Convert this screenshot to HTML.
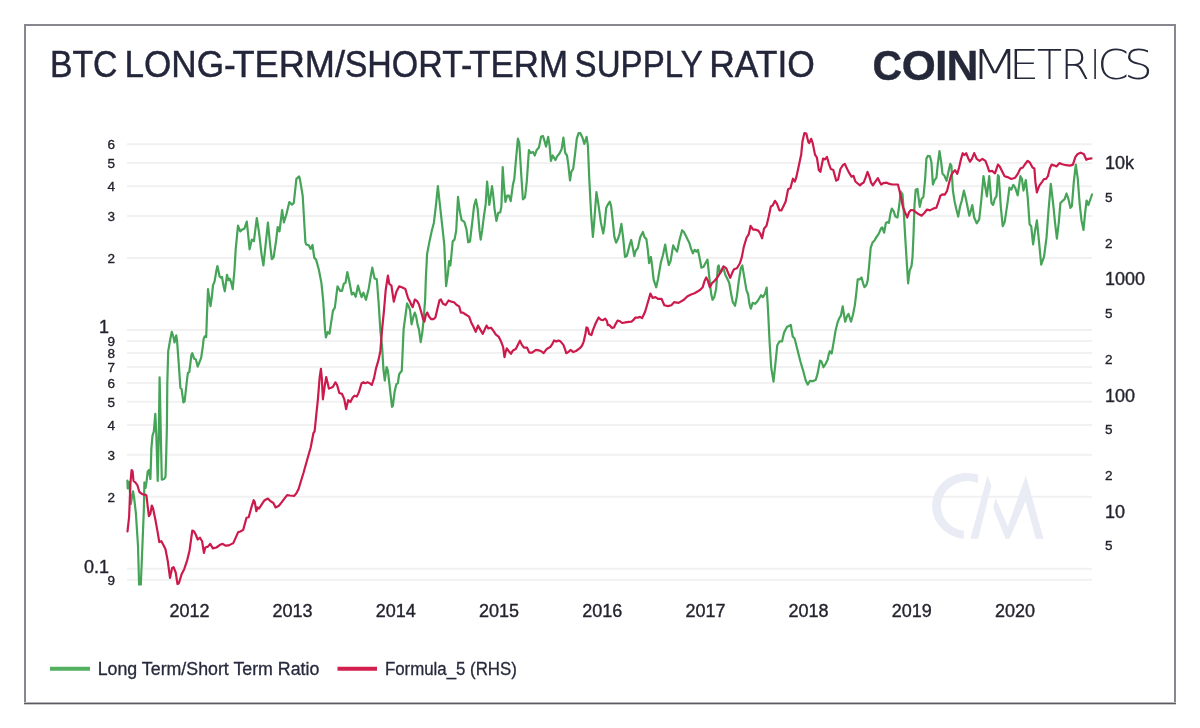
<!DOCTYPE html>
<html><head><meta charset="utf-8"><style>
html,body{margin:0;padding:0;background:#fff;}
body{width:1200px;height:728px;overflow:hidden;}
svg{display:block;} text{font-kerning:none;}
.ls{font:13.5px "Liberation Sans", Arial, Helvetica, sans-serif;fill:#23232f;stroke:#23232f;stroke-width:0.35px;text-anchor:end;}
.ll{font:18px "Liberation Sans", Arial, Helvetica, sans-serif;fill:#23232f;stroke:#23232f;stroke-width:0.35px;text-anchor:end;}
.rs{font:13.5px "Liberation Sans", Arial, Helvetica, sans-serif;fill:#23232f;stroke:#23232f;stroke-width:0.35px;}
.rl{font:18px "Liberation Sans", Arial, Helvetica, sans-serif;fill:#23232f;stroke:#23232f;stroke-width:0.35px;}
.xl{font:18px "Liberation Sans", Arial, Helvetica, sans-serif;fill:#23232f;stroke:#23232f;stroke-width:0.35px;text-anchor:middle;}
.title{font:37.5px "Liberation Sans", Arial, Helvetica, sans-serif;fill:#23263a;stroke:#23263a;stroke-width:0.45px;}
.leg{font:18px "Liberation Sans", Arial, Helvetica, sans-serif;fill:#262a3c;stroke:#262a3c;stroke-width:0.3px;}
.coin{font:bold 42.5px "Liberation Sans", Arial, Helvetica, sans-serif;fill:#252839;stroke:#252839;stroke-width:0.4px;}
.metrics{font:200 40px "DejaVu Sans", sans-serif;fill:#252839;}
</style></head><body>
<svg width="1200" height="728" viewBox="0 0 1200 728">
<rect x="0" y="0" width="1200" height="728" fill="#fff"/>
<rect x="25" y="25" width="1150" height="678" fill="none" stroke="#88878f" stroke-width="2"/>
<line x1="24" y1="702.5" x2="1176" y2="702.5" stroke="#b4b3b9" stroke-width="1"/>
<line x1="24" y1="703.5" x2="1176" y2="703.5" stroke="#5c5b64" stroke-width="1"/>
<line x1="24" y1="704.5" x2="1176" y2="704.5" stroke="#c8c7cc" stroke-width="1"/>
<text y="76.8" class="title"><tspan x="49.91" textLength="67.44" lengthAdjust="spacingAndGlyphs">BTC</tspan> <tspan x="124.50" textLength="111.26" lengthAdjust="spacingAndGlyphs">LONG-</tspan><tspan x="232.43" textLength="112.63" lengthAdjust="spacingAndGlyphs">TERM/</tspan><tspan x="344.66" textLength="127.67" lengthAdjust="spacingAndGlyphs">SHORT-</tspan><tspan x="469.16" textLength="98.77" lengthAdjust="spacingAndGlyphs">TERM</tspan> <tspan x="574.61" textLength="127.50" lengthAdjust="spacingAndGlyphs">SUPPLY</tspan> <tspan x="709.17" textLength="105.74" lengthAdjust="spacingAndGlyphs">RATIO</tspan></text>
<text y="79.5" class="coin"><tspan x="872.56" textLength="29.59" lengthAdjust="spacingAndGlyphs">C</tspan><tspan x="901.75" textLength="34.06" lengthAdjust="spacingAndGlyphs">O</tspan><tspan x="935.06" textLength="12.38" lengthAdjust="spacingAndGlyphs">I</tspan><tspan x="946.59" textLength="31.92" lengthAdjust="spacingAndGlyphs">N</tspan></text>
<text y="79.3" class="metrics"><tspan x="970.45" textLength="48.83" lengthAdjust="spacingAndGlyphs">M</tspan><tspan x="1008.78" textLength="30.54" lengthAdjust="spacingAndGlyphs">E</tspan><tspan x="1037.08" textLength="25.03" lengthAdjust="spacingAndGlyphs">T</tspan><tspan x="1060.60" textLength="29.20" lengthAdjust="spacingAndGlyphs">R</tspan><tspan x="1090.48" textLength="9.27" lengthAdjust="spacingAndGlyphs">I</tspan><tspan x="1097.26" textLength="31.65" lengthAdjust="spacingAndGlyphs">C</tspan><tspan x="1123.91" textLength="28.82" lengthAdjust="spacingAndGlyphs">S</tspan></text>
<g stroke="#f1f1f2" stroke-width="2">
<line x1="127" y1="579.67" x2="1092" y2="579.67"/>
<line x1="127" y1="568.74" x2="1092" y2="568.74"/>
<line x1="127" y1="496.86" x2="1092" y2="496.86"/>
<line x1="127" y1="454.82" x2="1092" y2="454.82"/>
<line x1="127" y1="424.99" x2="1092" y2="424.99"/>
<line x1="127" y1="401.85" x2="1092" y2="401.85"/>
<line x1="127" y1="382.94" x2="1092" y2="382.94"/>
<line x1="127" y1="366.96" x2="1092" y2="366.96"/>
<line x1="127" y1="353.11" x2="1092" y2="353.11"/>
<line x1="127" y1="340.9" x2="1092" y2="340.9"/>
<line x1="127" y1="329.97" x2="1092" y2="329.97"/>
<line x1="127" y1="258.09" x2="1092" y2="258.09"/>
<line x1="127" y1="216.05" x2="1092" y2="216.05"/>
<line x1="127" y1="186.22" x2="1092" y2="186.22"/>
<line x1="127" y1="163.08" x2="1092" y2="163.08"/>
<line x1="127" y1="144.17" x2="1092" y2="144.17"/>
</g>
<g fill="#eaecf5">
<path d="M978.1,474.6 A35,33 0 1 0 963.9,538.8 L963.9,530.8 A26.6,25 0 1 1 978.1,483.1 Z"/>
<path d="M970.4,538.8 L978.1,538.8 L991.3,485.9 L987.5,475.4 Z"/>
<path d="M995.5,498 L1007.8,526.5 L1025.9,475.4 L1043.5,538.8 L1035.8,538.8 L1025.5,501.3 L1009.5,538.8 L1005.5,538.8 L993.3,508 Z"/>
</g>
<defs><clipPath id="pc"><rect x="126" y="120" width="968" height="465.5"/></clipPath></defs>
<g clip-path="url(#pc)" fill="none" stroke-width="2.2" stroke-linejoin="round" stroke-linecap="round">
<path d="M127.4,480.5 L127.7,488.5 L129.2,482.0 L130.8,504.0 L133.0,491.3 L134.1,497.5 L135.9,513.6 L138.0,545.7 L139.1,585.0 L140.8,585.0 L142.4,546.0 L143.8,511.0 L144.4,482.4 L145.5,488.0 L146.6,481.4 L147.7,471.4 L149.0,470.0 L150.4,479.0 L151.4,448.1 L152.5,435.7 L153.8,431.6 L155.3,413.8 L156.3,434.3 L157.7,481.0 L158.7,441.2 L159.6,377.3 L161.8,479.7 L164.1,479.0 L165.5,476.9 L166.2,455.0 L166.9,427.5 L167.3,383.6 L168.2,351.4 L170.0,340.7 L171.8,331.8 L173.5,337.0 L174.5,342.5 L176.2,335.4 L177.0,340.0 L178.9,365.7 L180.4,388.0 L181.6,389.0 L183.4,402.3 L184.6,401.4 L187.0,380.0 L187.9,372.9 L189.3,372.0 L191.4,355.0 L192.3,353.2 L194.1,358.6 L195.9,359.5 L197.7,366.6 L199.5,362.1 L201.2,357.7 L203.0,345.2 L203.6,339.1 L204.7,336.4 L206.2,337.0 L206.9,317.1 L208.0,289.1 L209.1,296.3 L210.5,306.2 L211.9,296.3 L213.0,285.3 L214.6,281.4 L216.3,271.0 L217.4,266.0 L218.5,271.0 L219.6,276.5 L220.9,277.6 L222.0,277.0 L223.4,285.3 L224.8,291.3 L225.9,283.1 L227.0,274.8 L228.4,280.3 L229.7,278.7 L231.1,282.0 L232.7,289.1 L234.4,271.0 L235.7,249.3 L238.0,225.7 L240.2,231.4 L242.0,229.6 L244.3,228.8 L246.8,221.6 L248.2,235.0 L249.6,249.3 L251.8,239.5 L253.9,241.2 L256.8,218.0 L258.9,231.4 L261.6,254.6 L263.4,265.4 L265.7,243.9 L267.9,222.5 L270.0,243.9 L271.8,259.1 L273.6,257.3 L275.9,242.1 L277.7,227.0 L279.5,231.4 L282.1,210.0 L283.9,222.5 L286.6,213.6 L289.3,202.0 L292.0,204.6 L293.8,202.9 L296.4,178.8 L299.1,176.4 L300.0,179.6 L302.7,195.7 L305.4,242.1 L306.2,244.5 L308.9,245.4 L310.7,248.9 L312.5,245.0 L314.3,257.9 L316.1,259.6 L318.8,269.5 L321.4,282.9 L323.2,300.7 L325.0,329.3 L325.9,337.3 L327.7,332.0 L329.5,333.8 L331.2,322.1 L333.0,310.5 L334.8,307.9 L337.5,286.4 L340.2,290.9 L342.0,290.9 L343.8,283.8 L345.5,282.9 L347.3,272.1 L349.1,280.2 L351.8,294.5 L353.6,292.7 L355.7,296.8 L358.0,285.5 L359.8,291.8 L361.6,297.1 L363.4,292.7 L366.0,299.8 L368.8,288.2 L370.5,277.5 L372.3,267.7 L374.6,278.4 L376.8,279.3 L378.6,302.5 L380.4,331.0 L382.1,347.1 L383.5,370.0 L384.8,380.5 L386.6,367.1 L387.9,370.7 L389.3,383.2 L390.7,395.7 L392.0,406.8 L392.9,405.5 L394.6,392.1 L396.4,384.1 L397.9,383.2 L399.1,374.3 L400.4,372.5 L401.8,370.7 L403.6,329.3 L407.1,303.4 L408.5,306.0 L410.0,309.8 L411.6,324.3 L413.4,316.7 L414.8,312.6 L416.2,316.7 L417.6,324.9 L418.9,329.1 L420.7,342.1 L422.4,331.8 L423.7,318.1 L425.1,300.2 L425.9,277.1 L427.1,253.9 L429.5,241.4 L431.8,230.7 L433.9,222.7 L435.7,207.5 L437.9,186.1 L439.6,202.1 L442.0,223.6 L444.3,245.0 L446.1,286.1 L447.9,273.6 L449.1,261.1 L450.4,265.5 L452.7,241.4 L454.5,239.6 L456.2,230.7 L458.0,196.8 L459.8,211.1 L461.6,220.0 L464.3,221.8 L466.4,228.9 L468.2,242.3 L470.0,241.4 L472.3,221.8 L474.1,205.7 L475.9,199.5 L477.7,209.3 L479.5,230.7 L480.7,239.6 L482.1,230.7 L483.9,216.4 L485.7,203.9 L487.1,181.6 L488.4,195.0 L489.3,204.8 L490.7,195.9 L492.0,186.1 L493.2,195.0 L494.6,209.3 L496.4,220.9 L498.2,212.9 L500.2,212.5 L501.4,206.4 L502.7,167.1 L503.9,185.0 L505.4,202.0 L507.1,195.7 L508.9,195.7 L510.7,201.1 L512.9,185.0 L514.3,178.8 L516.1,158.2 L517.9,138.6 L519.3,143.0 L521.1,172.5 L522.9,199.3 L525.0,197.5 L526.8,181.4 L528.9,150.2 L530.7,152.9 L533.0,152.0 L534.8,155.5 L536.6,150.2 L538.9,147.5 L541.1,136.8 L542.9,135.9 L544.6,141.2 L546.1,146.6 L548.2,136.8 L549.6,145.7 L550.9,160.9 L552.7,155.5 L555.4,160.0 L557.1,156.4 L559.3,153.8 L561.6,149.3 L563.4,137.7 L565.2,152.9 L567.0,155.5 L568.4,165.4 L570.0,180.5 L571.4,171.6 L573.2,168.9 L575.0,154.6 L576.8,138.6 L578.6,133.2 L580.4,133.2 L582.5,137.7 L584.3,143.9 L586.6,136.8 L587.9,145.7 L589.3,179.6 L591.1,213.6 L592.9,236.8 L594.3,220.7 L596.4,192.1 L598.2,202.9 L600.9,222.5 L603.2,233.5 L604.5,225.7 L606.2,207.9 L608.0,204.3 L609.8,201.6 L611.1,206.1 L612.9,222.1 L614.3,236.4 L616.1,242.7 L617.9,239.1 L619.6,233.8 L621.4,223.9 L623.2,238.2 L625.0,257.0 L626.8,256.1 L629.5,245.4 L631.2,240.0 L633.0,248.9 L634.3,256.1 L635.7,250.7 L637.9,248.0 L640.2,237.3 L642.9,232.0 L644.6,237.3 L646.4,239.1 L647.9,250.7 L649.1,263.2 L650.9,257.0 L651.8,263.2 L653.6,279.3 L656.2,287.3 L658.0,279.3 L660.7,263.2 L662.9,255.2 L665.2,244.5 L667.0,256.1 L668.8,265.0 L670.5,261.4 L673.2,245.4 L675.0,248.9 L677.1,251.6 L679.5,240.0 L682.1,230.2 L683.9,232.0 L685.7,235.5 L687.9,240.0 L689.3,242.7 L691.1,248.9 L692.9,253.4 L694.6,249.8 L696.4,251.6 L697.9,249.8 L699.6,257.9 L701.4,267.7 L703.6,266.8 L705.4,263.2 L707.5,259.6 L709.3,277.5 L711.1,293.6 L712.5,299.8 L714.3,297.1 L716.1,289.1 L717.9,266.8 L718.7,265.4 L720.0,273.1 L721.5,271.2 L723.8,269.2 L725.4,275.0 L727.3,278.8 L729.2,282.7 L731.2,294.2 L732.7,301.9 L735.0,305.8 L736.9,296.2 L738.8,280.8 L740.8,268.3 L742.3,265.4 L744.2,276.9 L746.5,290.4 L748.1,294.2 L749.4,303.8 L750.8,308.7 L752.7,302.9 L755.2,303.8 L757.7,301.0 L761.0,295.2 L762.9,297.1 L764.8,294.2 L766.7,287.5 L768.1,311.5 L769.6,342.3 L771.2,367.3 L773.5,381.7 L775.4,363.5 L777.3,345.2 L779.6,341.3 L782.1,341.3 L784.0,332.7 L786.9,326.9 L788.8,326.0 L790.8,325.0 L792.7,336.5 L794.6,338.5 L797.5,350.0 L800.4,361.5 L803.3,371.2 L805.8,380.8 L807.7,384.6 L810.0,380.8 L812.9,381.2 L815.8,379.8 L817.7,373.1 L820.0,360.6 L821.5,361.5 L823.5,367.3 L825.8,363.5 L827.7,359.6 L828.5,355.4 L829.8,351.2 L831.7,353.5 L833.7,341.9 L835.6,330.4 L837.5,322.7 L839.4,317.9 L840.8,316.0 L842.7,306.3 L844.2,316.0 L845.2,321.7 L847.1,316.0 L848.5,314.0 L851.0,321.7 L852.9,315.0 L854.8,305.4 L856.2,293.8 L857.7,279.4 L859.6,279.4 L861.5,277.5 L863.1,283.3 L864.4,287.1 L866.3,285.2 L867.7,280.4 L869.2,265.0 L870.7,247.9 L872.5,242.5 L874.3,240.7 L876.4,237.1 L878.8,233.6 L881.1,228.2 L882.3,227.3 L884.1,232.7 L885.9,222.9 L887.7,222.0 L888.9,222.9 L890.4,213.9 L891.8,208.6 L893.6,211.2 L895.4,216.6 L897.5,217.5 L899.3,205.0 L900.7,191.6 L902.5,194.3 L903.8,212.1 L905.0,233.6 L906.7,261.2 L908.1,283.3 L909.6,270.8 L911.5,266.0 L912.5,257.3 L913.5,235.0 L914.5,205.0 L915.7,189.8 L917.5,188.9 L918.6,197.9 L919.8,206.8 L921.6,198.8 L923.4,197.0 L925.2,178.2 L926.4,158.6 L927.9,155.9 L930.0,156.4 L931.4,162.1 L932.9,184.5 L934.6,180.0 L936.4,177.9 L937.7,164.8 L939.5,151.1 L941.2,162.1 L942.5,173.8 L944.3,175.5 L946.6,180.9 L948.4,172.0 L950.2,163.9 L951.4,165.7 L952.9,190.7 L954.6,201.4 L956.4,209.5 L958.2,216.6 L960.0,206.8 L961.8,200.5 L963.9,190.7 L965.7,197.9 L967.5,206.8 L969.3,215.7 L970.5,212.0 L972.3,205.0 L974.2,217.5 L976.7,223.3 L979.2,219.4 L981.2,201.2 L983.5,176.2 L985.4,187.7 L986.9,196.3 L989.2,176.2 L991.5,203.1 L993.1,205.0 L995.0,198.3 L996.5,196.3 L997.9,175.2 L998.8,176.2 L1000.8,206.9 L1002.7,226.2 L1004.6,222.3 L1007.5,203.1 L1009.4,187.7 L1011.3,189.6 L1013.3,184.8 L1015.2,187.7 L1017.7,195.4 L1020.4,176.2 L1021.9,179.0 L1023.5,190.6 L1025.8,180.0 L1027.7,197.3 L1029.6,224.2 L1031.2,226.2 L1033.1,244.4 L1035.0,231.0 L1036.9,220.4 L1038.8,239.6 L1041.2,264.6 L1044.0,256.9 L1046.5,237.7 L1048.5,210.8 L1050.8,183.8 L1053.1,203.1 L1055.0,222.3 L1056.9,238.7 L1058.8,222.3 L1060.4,203.1 L1062.3,201.2 L1064.6,199.2 L1066.5,193.5 L1068.5,199.2 L1070.4,207.9 L1071.9,206.0 L1073.8,181.9 L1075.8,164.6 L1077.7,178.1 L1079.6,203.1 L1081.5,220.4 L1083.5,230.0 L1085.2,212.0 L1086.6,200.5 L1088.4,205.0 L1092.0,194.5" stroke="#45a457"/>
<path d="M127.5,531.4 L129.1,517.0 L130.5,482.4 L131.6,470.0 L132.6,471.4 L133.5,481.0 L135.3,482.4 L137.4,485.2 L139.4,492.0 L142.2,494.1 L145.6,494.8 L146.4,495.4 L147.7,506.4 L148.9,516.2 L150.4,513.6 L151.8,505.5 L153.0,508.2 L155.4,519.8 L157.5,531.4 L159.3,542.1 L161.4,541.2 L163.8,545.7 L165.5,549.3 L167.9,561.8 L170.0,577.9 L172.1,568.0 L173.6,567.1 L175.7,572.5 L177.5,584.1 L178.9,583.2 L181.6,574.3 L184.3,568.9 L187.0,560.9 L189.6,550.2 L192.3,530.5 L194.1,531.4 L195.9,535.0 L197.7,539.5 L200.0,537.7 L202.1,541.2 L203.9,552.9 L205.4,547.5 L207.9,546.6 L210.2,543.9 L212.9,548.4 L216.4,547.5 L220.0,544.8 L222.7,543.9 L225.4,545.7 L228.9,545.4 L233.3,543.1 L235.5,538.1 L238.2,532.1 L240.4,531.5 L243.2,529.9 L246.5,517.8 L248.7,517.3 L251.4,507.4 L253.6,500.2 L254.7,501.9 L256.4,511.2 L257.5,507.4 L259.1,508.5 L261.9,504.1 L264.6,500.2 L267.9,498.6 L270.1,500.8 L273.4,503.0 L275.6,507.4 L278.9,505.7 L281.6,502.4 L284.4,498.6 L287.1,495.1 L289.9,495.5 L294.3,495.8 L296.5,493.1 L298.7,488.7 L300.3,483.2 L303.6,472.5 L307.1,460.0 L310.7,447.5 L313.4,433.2 L314.6,431.4 L316.4,413.6 L317.9,399.3 L319.6,377.9 L320.9,368.9 L321.8,377.9 L322.9,399.3 L324.6,386.8 L326.2,377.0 L327.7,383.2 L328.9,388.6 L331.2,387.7 L333.0,386.8 L335.4,382.3 L337.1,385.0 L339.3,393.0 L342.0,393.9 L344.3,399.3 L346.1,409.1 L348.2,400.2 L350.4,402.0 L352.7,397.5 L354.5,395.7 L356.8,396.6 L358.9,392.1 L361.6,383.2 L363.4,382.3 L365.2,383.2 L367.5,382.3 L369.6,383.2 L371.8,385.0 L374.1,377.9 L375.9,368.9 L378.6,359.6 L380.4,350.7 L382.1,329.3 L383.9,311.4 L385.7,290.0 L387.9,275.7 L389.3,283.8 L391.4,285.5 L393.8,301.6 L396.4,291.8 L399.1,286.4 L401.8,287.3 L405.4,289.1 L408.0,298.0 L410.0,301.6 L411.4,305.0 L412.7,307.1 L414.8,299.5 L416.9,300.9 L418.9,304.3 L421.0,311.2 L423.0,318.8 L424.4,321.5 L425.8,315.3 L427.2,312.6 L429.2,316.7 L431.3,319.2 L433.4,319.2 L435.4,317.4 L437.5,308.5 L439.5,300.2 L440.9,299.5 L443.0,303.7 L445.7,305.0 L448.5,300.5 L451.2,301.6 L454.0,302.3 L456.7,305.0 L459.2,306.4 L460.8,312.6 L462.9,312.6 L464.9,314.0 L467.0,315.3 L469.1,316.7 L471.1,322.2 L473.2,326.3 L475.7,331.8 L478.0,325.6 L480.0,329.1 L482.8,333.9 L484.9,329.1 L486.6,325.6 L488.3,328.4 L491.0,327.7 L493.1,330.4 L495.9,334.6 L498.6,336.6 L501.3,342.1 L503.1,346.9 L504.5,357.2 L505.5,352.4 L506.8,348.3 L508.6,351.0 L511.0,353.8 L513.0,350.4 L515.8,349.0 L517.8,344.9 L519.9,340.7 L521.9,344.9 L524.0,347.6 L527.1,347.7 L529.3,352.6 L532.1,352.6 L535.9,349.9 L538.7,350.4 L540.9,351.0 L543.6,353.2 L546.4,349.3 L548.0,348.2 L550.2,347.1 L552.4,343.8 L554.1,340.5 L556.3,341.6 L558.5,340.5 L560.7,341.6 L563.4,344.9 L565.1,349.3 L566.2,353.2 L568.4,352.1 L570.5,349.9 L573.3,352.1 L576.0,351.0 L579.9,348.2 L582.1,345.5 L583.7,341.6 L585.4,334.0 L586.5,327.4 L587.6,327.9 L589.2,334.0 L591.4,335.1 L593.1,329.6 L595.8,323.0 L598.6,317.5 L600.8,319.7 L603.0,320.2 L605.2,318.6 L606.8,320.8 L607.9,325.2 L609.6,325.2 L611.8,327.9 L614.0,327.4 L615.6,324.1 L617.6,320.5 L620.0,321.3 L622.2,323.0 L625.5,322.4 L628.8,321.9 L631.5,321.6 L633.2,320.2 L635.4,317.5 L637.6,317.7 L640.0,316.9 L642.0,318.2 L645.0,312.0 L647.3,304.3 L650.4,293.6 L652.7,298.0 L655.4,297.1 L658.0,298.9 L661.6,298.9 L664.3,305.2 L667.9,306.1 L671.4,305.2 L674.1,302.1 L678.6,302.9 L683.9,299.8 L687.5,296.2 L691.1,294.5 L694.6,293.2 L700.0,290.0 L702.7,287.3 L704.5,281.1 L706.2,277.5 L708.0,281.1 L709.8,287.3 L712.1,282.9 L713.8,281.7 L717.7,276.9 L720.6,272.1 L723.5,266.3 L726.3,268.3 L730.2,277.9 L732.1,273.1 L734.0,269.2 L736.9,268.3 L739.8,263.5 L741.7,257.7 L743.8,246.9 L746.7,237.3 L748.7,234.4 L750.6,225.8 L753.1,229.6 L755.4,229.6 L758.3,230.6 L760.2,233.5 L762.1,238.3 L764.0,228.7 L766.5,225.8 L768.8,216.2 L770.8,206.5 L772.7,205.6 L775.0,200.8 L776.9,203.7 L779.4,210.4 L781.3,210.4 L783.3,206.5 L785.6,201.7 L788.1,189.2 L790.4,188.3 L792.9,178.7 L794.8,181.5 L796.2,177.7 L798.7,166.2 L801.2,154.6 L802.5,141.2 L804.4,133.1 L806.3,133.5 L808.3,142.1 L809.2,143.1 L811.2,138.8 L812.7,143.1 L815.0,154.6 L816.9,157.5 L818.8,170.0 L820.4,171.9 L823.1,158.5 L825.0,159.4 L826.9,156.9 L828.8,163.3 L830.8,169.0 L833.3,170.0 L836.2,180.6 L838.1,179.6 L840.4,169.0 L842.9,165.2 L844.8,163.8 L846.7,168.1 L849.2,172.9 L851.5,176.7 L853.5,175.8 L855.4,181.5 L857.7,183.5 L860.0,185.4 L861.8,183.6 L863.6,182.7 L865.4,178.2 L867.5,172.0 L869.3,176.4 L871.1,182.7 L872.9,185.4 L875.2,181.8 L877.9,178.2 L879.6,181.8 L881.1,184.5 L883.2,183.2 L886.8,182.7 L889.5,183.9 L892.1,184.5 L895.7,184.5 L897.9,184.5 L899.3,189.8 L901.1,197.9 L902.9,206.8 L905.0,212.1 L907.3,217.5 L909.1,212.1 L910.9,210.0 L913.6,210.4 L916.2,212.5 L918.9,214.3 L921.6,215.7 L924.3,213.0 L927.0,209.5 L930.0,210.4 L933.2,208.6 L936.4,207.7 L938.6,201.4 L940.4,195.7 L942.5,194.3 L944.8,194.6 L947.1,190.7 L948.9,183.6 L951.1,175.5 L953.2,172.0 L955.0,170.2 L957.3,173.8 L959.1,167.5 L960.9,159.5 L962.7,153.2 L964.5,155.0 L966.2,153.2 L968.0,157.7 L970.0,161.7 L971.9,158.8 L974.2,153.1 L976.7,158.8 L979.6,160.8 L982.5,158.8 L985.4,160.8 L987.3,165.6 L989.2,171.3 L992.1,170.8 L995.0,173.3 L997.9,164.6 L999.8,166.5 L1001.7,170.4 L1004.6,176.2 L1007.5,177.1 L1011.3,179.0 L1015.2,177.7 L1018.1,173.3 L1020.4,168.5 L1022.9,167.5 L1025.4,163.7 L1027.7,160.8 L1030.0,162.7 L1032.5,167.5 L1034.4,168.5 L1035.4,181.9 L1036.9,192.5 L1039.2,185.8 L1042.1,181.9 L1044.0,179.0 L1046.0,179.0 L1047.9,176.2 L1049.8,168.5 L1051.7,164.6 L1054.6,165.6 L1056.5,166.5 L1059.4,163.1 L1062.3,164.2 L1066.2,165.2 L1070.0,165.6 L1072.9,164.6 L1075.4,156.9 L1077.7,154.0 L1080.6,152.7 L1083.8,154.0 L1086.3,159.8 L1088.3,158.8 L1091.5,158.3" stroke="#cc1a4c"/>
</g>
<text x="115" y="584.5" class="ls">9</text>
<text x="115" y="501.7" class="ls">2</text>
<text x="115" y="459.6" class="ls">3</text>
<text x="115" y="429.8" class="ls">4</text>
<text x="115" y="406.6" class="ls">5</text>
<text x="115" y="387.7" class="ls">6</text>
<text x="115" y="371.8" class="ls">7</text>
<text x="115" y="357.9" class="ls">8</text>
<text x="115" y="345.7" class="ls">9</text>
<text x="115" y="262.9" class="ls">2</text>
<text x="115" y="220.8" class="ls">3</text>
<text x="115" y="191.0" class="ls">4</text>
<text x="115" y="167.9" class="ls">5</text>
<text x="115" y="149.0" class="ls">6</text>
<text x="109" y="333.0" class="ll">1</text>
<text x="109" y="573.2" class="ll">0.1</text>
<text x="1105" y="169.0" class="rl">10k</text>
<text x="1105" y="201.5" class="rs">5</text>
<text x="1105" y="247.8" class="rs">2</text>
<text x="1105" y="285.3" class="rl">1000</text>
<text x="1105" y="317.8" class="rs">5</text>
<text x="1105" y="364.1" class="rs">2</text>
<text x="1105" y="401.6" class="rl">100</text>
<text x="1105" y="434.1" class="rs">5</text>
<text x="1105" y="480.4" class="rs">2</text>
<text x="1105" y="517.9" class="rl">10</text>
<text x="1105" y="550.4" class="rs">5</text>
<text x="189.4" y="617" class="xl">2012</text>
<text x="292.6" y="617" class="xl">2013</text>
<text x="395.8" y="617" class="xl">2014</text>
<text x="499.0" y="617" class="xl">2015</text>
<text x="602.2" y="617" class="xl">2016</text>
<text x="705.4" y="617" class="xl">2017</text>
<text x="808.5" y="617" class="xl">2018</text>
<text x="911.7" y="617" class="xl">2019</text>
<text x="1014.9" y="617" class="xl">2020</text>
<line x1="50" y1="668.7" x2="90" y2="668.7" stroke="#52b060" stroke-width="4"/>
<text x="97.72" y="675" class="leg" textLength="221.61" lengthAdjust="spacingAndGlyphs">Long Term/Short Term Ratio</text>
<line x1="337.5" y1="668.7" x2="377" y2="668.7" stroke="#d21f4e" stroke-width="4"/>
<text x="384.90" y="675" class="leg" textLength="131.96" lengthAdjust="spacingAndGlyphs">Formula_5 (RHS)</text>
</svg>
</body></html>
